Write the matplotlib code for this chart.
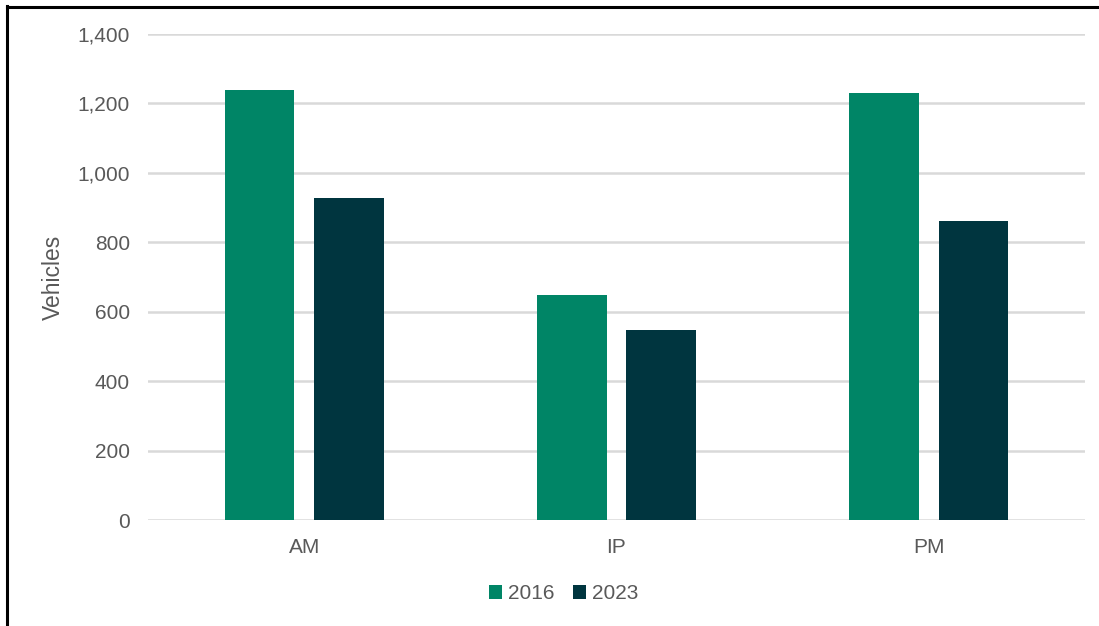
import matplotlib
matplotlib.use("Agg")
import matplotlib.pyplot as plt
from matplotlib.lines import Line2D
import numpy as np

periods = ["AM", "IP", "PM"]
series_names = ["2016", "2023"]
vehicles_2016 = [1238, 649, 1229]
vehicles_2023 = [927, 548, 861]
y_ticks = [0, 200, 400, 600, 800, 1000, 1200, 1400]

colors = ["#008566", "#00353f"]
text_color = "#595959"
grid_color = "#d9d9d9"

plt.rcParams["font.family"] = ["Liberation Sans", "DejaVu Sans"]

W, H = 1099, 626
fs = 15
fig = plt.figure(figsize=(W / 100, H / 100), dpi=100)
ax = fig.add_axes([148 / W, 1 - 520 / H, (1085 - 148) / W, (520 - 34) / H])

x = np.arange(len(periods))
bar_w = 0.224
offset = 0.143
ax.bar(x - offset, vehicles_2016, width=bar_w, color=colors[0], label=series_names[0], zorder=3)
ax.bar(x + offset, vehicles_2023, width=bar_w, color=colors[1], label=series_names[1], zorder=3)

ax.set_xlim(-0.5, len(periods) - 0.5)
ax.set_ylim(0, 1400)
ax.set_yticks(y_ticks)
ax.set_yticklabels([f"{v:,}" for v in y_ticks])
ax.set_xticks(x)
ax.set_xticklabels(periods)
ax.yaxis.grid(True, color=grid_color, linewidth=1.8, zorder=0)
ax.set_axisbelow(True)
for s in ax.spines.values():
    s.set_visible(False)
ax.tick_params(axis="both", length=0, colors=text_color, labelsize=fs)
ax.tick_params(axis="y", pad=13)
ax.tick_params(axis="x", pad=13)
ax.set_ylabel("Vehicles", color=text_color, fontsize=16.5, labelpad=9)

ax.legend(loc="upper center", bbox_to_anchor=(0.444, -0.094), ncol=2, frameon=False,
          fontsize=fs, labelcolor=text_color, handlelength=0.6, handleheight=0.6,
          handletextpad=0.3, columnspacing=0.9)

# figure frame along the top and left edges
fig.add_artist(Line2D([7 / W, 7 / W], [0, 1 - 6 / H], transform=fig.transFigure,
                      color="black", linewidth=2.2))
fig.add_artist(Line2D([7 / W, 1], [1 - 7 / H, 1 - 7 / H], transform=fig.transFigure,
                      color="black", linewidth=2.2))

fig.savefig("out.png", dpi=100, facecolor="white")
